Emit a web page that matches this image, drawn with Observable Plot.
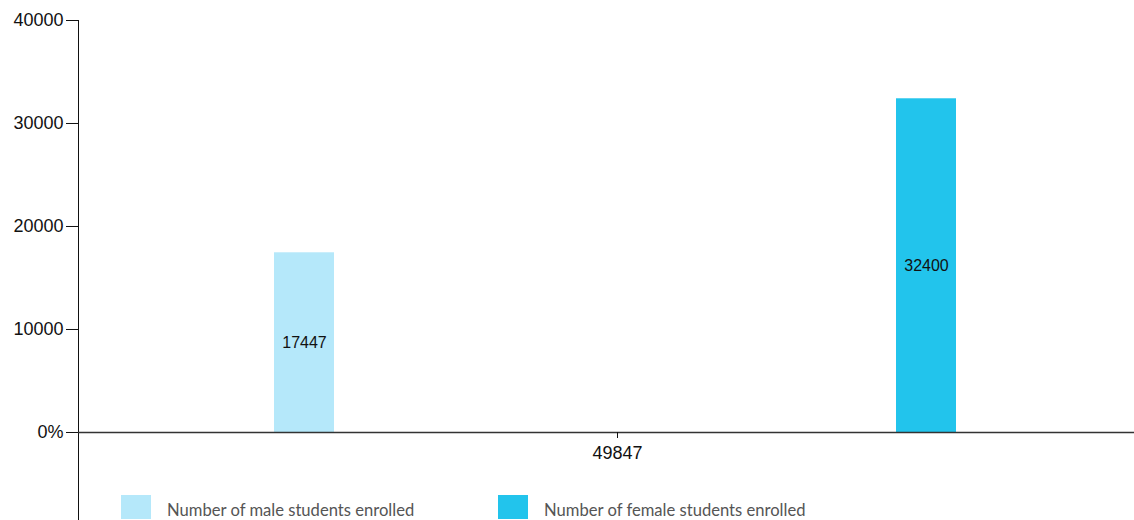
<!DOCTYPE html>
<html>
<head>
<meta charset="utf-8">
<script src="https://cdn.jsdelivr.net/npm/d3@7"></script>
<script src="https://cdn.jsdelivr.net/npm/@observablehq/plot@0.6"></script>
<style>
  html, body { margin: 0; padding: 0; background: #fff; overflow: hidden; width: 1134px; height: 520px; }
  #chart { position: relative; width: 1134px; height: 520px; overflow: hidden; }
  #chart svg { position: absolute; left: 0; top: 0; max-width: none !important; width: 1156px !important; height: 520px !important; }
  .legend { position: absolute; top: 495px; left: 0; height: 24px; font-family: "Lato", "Liberation Sans", sans-serif; font-size: 16.6px; color: #555; }
  .legend .item { position: absolute; top: 0; height: 24px; display: flex; align-items: center; white-space: nowrap; }
  .legend .sw { width: 30px; height: 24px; margin-right: 16px; }
  .legend span { padding-top: 5px; }
</style>
</head>
<body>
<div id="chart"></div>
<script>
// ---- data ----
const groups = ["49847"];
const series = ["Number of male students enrolled", "Number of female students enrolled"];
const values = [17447, 32400];
const colors = ["#b5e8fa", "#22c4ec"];
const yTicks = [0, 10000, 20000, 30000, 40000];
const legendLeft = [121, 498];

const data = series.map((s, i) => ({group: groups[0], series: s, value: values[i]}));

const plot = Plot.plot({
  width: 1156,
  height: 520,
  marginLeft: 78,
  marginRight: 0,
  marginTop: 20,
  marginBottom: 0,
  style: {fontFamily: "'Liberation Sans', Arial, sans-serif", fontSize: "18px", color: "#111", background: "#fff"},
  fx: {domain: groups, padding: 0, axis: null},
  x: {domain: series, paddingInner: 0.9035, paddingOuter: 0.318, align: 0.495, axis: null},
  y: {domain: [-8544, 40000], ticks: yTicks, tickSize: 12, tickPadding: 3, line: true, label: null,
      tickFormat: d => d === 0 ? "0%" : String(d)},
  color: {domain: series, range: colors},
  marks: [
    Plot.barY(data, {fx: "group", x: "series", y: "value", fill: "series"}),
    Plot.text(data, {fx: "group", x: "series", y: d => d.value / 2, text: d => String(d.value),
                     fontSize: 16, fill: "#111"}),
    Plot.ruleY([0], {stroke: "#333", strokeWidth: 1.5}),
    Plot.axisFx({anchor: "bottom", tickSize: 6, tickPadding: 8, dy: -88, label: null, fontSize: 18})
  ]
});
const chart = document.getElementById("chart");
chart.appendChild(plot);

// legend
const legend = document.createElement("div");
legend.className = "legend";
series.forEach((s, i) => {
  const item = document.createElement("div");
  item.className = "item";
  item.style.left = legendLeft[i] + "px";
  const sw = document.createElement("div");
  sw.className = "sw";
  sw.style.background = colors[i];
  const t = document.createElement("span");
  t.textContent = s;
  item.appendChild(sw);
  item.appendChild(t);
  legend.appendChild(item);
});
chart.appendChild(legend);
</script>
</body>
</html>
